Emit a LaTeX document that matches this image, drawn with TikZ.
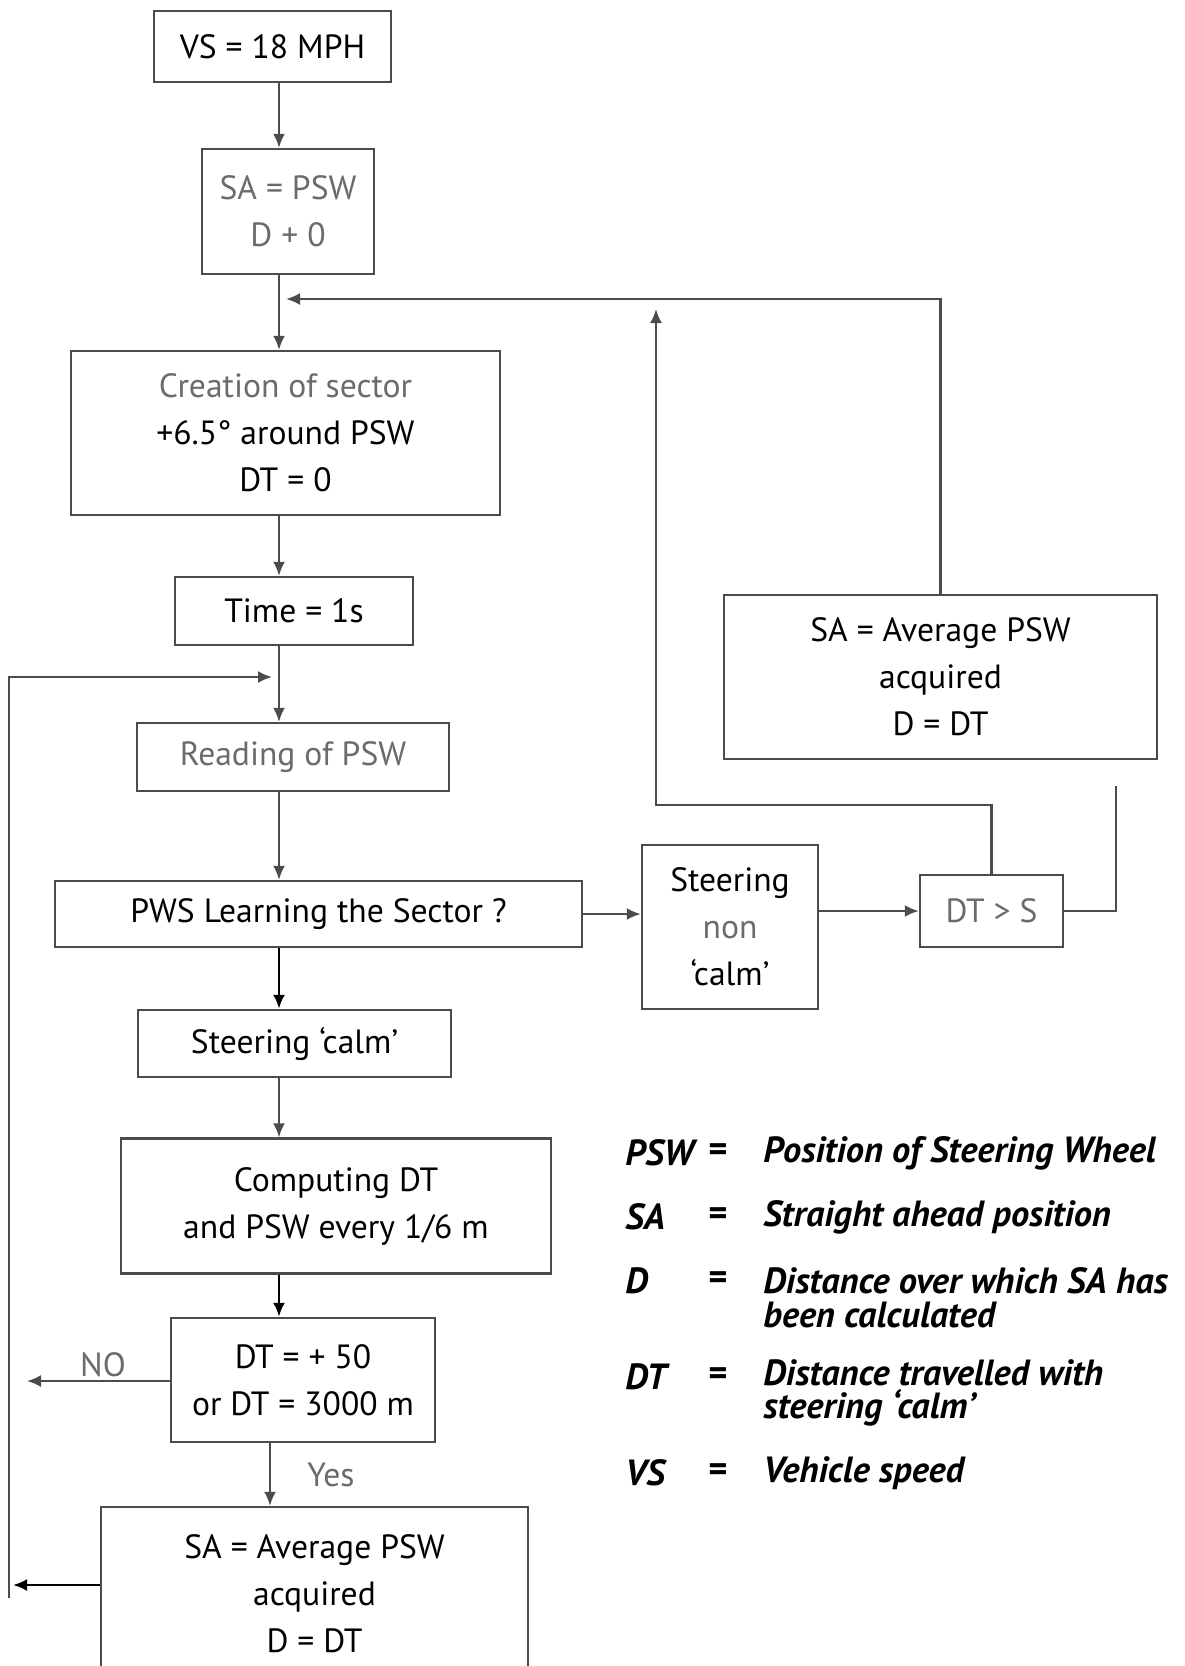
\documentclass[tikz,border=0pt]{standalone}
\usepackage{fontspec}
\setmainfont{PT Sans}
\usetikzlibrary{arrows.meta}
\newcommand\boxfont{\fontsize{16.8}{23.5}\selectfont}
\newcommand\legfont{\fontsize{18.2}{16.8}\selectfont\bfseries\itshape}
\definecolor{lineg}{gray}{0.3}
\definecolor{textg}{gray}{0.42}
\begin{document}
\begin{tikzpicture}[x=0.5pt,y=-0.5pt,
  box/.style={draw=lineg, line width=1.2pt, inner sep=0pt, align=center, font=\boxfont},
  arr/.style={draw=lineg, line width=1.1pt, -{Latex[length=7pt,width=6pt]}},
  arrk/.style={draw=black, line width=1.3pt, -{Latex[length=7pt,width=6pt]}},
  plain/.style={draw=lineg, line width=1.1pt},
  lbl/.style={font=\boxfont, text=textg, inner sep=0pt},
  legk/.style={font=\legfont, inner sep=0pt, anchor=west, align=left},
  legd/.style={font=\legfont, inner sep=0pt, anchor=west, align=left}]
\useasboundingbox (0,0) rectangle (1184,1666);
\fill[white] (0,0) rectangle (1184,1666);

% boxes
\node[box, minimum width=118.5pt, minimum height=35.5pt] (vs) at (272.5,46.5) {VS = 18 MPH};
\node[box, minimum width=86pt, minimum height=62.5pt, text=textg] (sa0) at (288,211.5) {SA = PSW\\D + 0};
\node[box, minimum width=214.5pt, minimum height=82pt] (cr) at (285.5,433) {\textcolor{textg}{Creation of sector}\\+6.5° around PSW\\DT = 0};
\node[box, minimum width=119pt, minimum height=34pt] (time) at (294,611) {Time = 1s};
\node[box, minimum width=156pt, minimum height=34pt, text=textg] (read) at (293,757) {Reading of PSW};
\node[box, minimum width=263.5pt, minimum height=33pt] (pws) at (318.5,914) {PWS Learning the Sector ?};
\node[box, minimum width=88pt, minimum height=82pt] (non) at (730,927) {Steering\\\textcolor{textg}{non}\\‘calm’};
\node[box, minimum width=71.5pt, minimum height=36pt, text=textg] (dts) at (991.5,911) {DT > S};
\node[box, minimum width=216.5pt, minimum height=82pt] (rsa) at (940.5,677) {SA = Average PSW\\acquired\\D = DT};
\node[box, minimum width=156.5pt, minimum height=33.5pt] (calm) at (294.5,1043.5) {Steering ‘calm’};
\node[box, minimum width=215pt, minimum height=67.5pt] (comp) at (336,1206) {Computing DT\\and PSW every 1/6 m};
\node[box, minimum width=132pt, minimum height=62pt] (dtc) at (303,1380) {DT = + 50\\or DT = 3000 m};
\node[box, minimum width=213.5pt, minimum height=86.5pt] (bsa) at (314.5,1593.5) {SA = Average PSW\\acquired\\D = DT};

% labels
\node[lbl] (nol) at (103,1365) {NO};
\node[lbl] (yesl) at (331,1475) {Yes};

% coordinates
\coordinate (sx) at (279,0);
\coordinate (yx) at (270,0);
\coordinate (m1) at (286,299);
\coordinate (m2) at (656,309);
\coordinate (dtsy) at (0,805);
\coordinate (e1) at (1116,786);
\coordinate (m3) at (272,677);
\coordinate (lt) at (9,677);
\coordinate (lb) at (9,1598);
\coordinate (lb2) at (13,1585);
\coordinate (no) at (27,1381);

% connectors
\draw[arr] (vs.south -| sx) -- (sa0.north -| sx);
\draw[arr] (sa0.south -| sx) -- (cr.north -| sx);
\draw[arr] (rsa.north) |- (m1);
\draw[arr] (dts.north) -- (dts.north |- dtsy) -| (m2);
\draw[plain] (dts.east) -| (e1);
\draw[arr] (cr.south -| sx) -- (time.north -| sx);
\draw[arr] (time.south -| sx) -- (read.north -| sx);
\draw[arr] (lb) -- (lt) -- (m3);
\draw[arr] (read.south -| sx) -- (pws.north -| sx);
\draw[arrk] (pws.south -| sx) -- (calm.north -| sx);
\draw[arr] (pws.east) -- (pws.east -| non.west);
\draw[arr] (non.east |- dts) -- (dts.west);
\draw[arr] (calm.south -| sx) -- (comp.north -| sx);
\draw[arrk] (comp.south -| sx) -- (dtc.north -| sx);
\draw[arr] (dtc.west |- no) -- (no);
\draw[arr] (dtc.south -| yx) -- (bsa.north -| yx);
\draw[arrk] (bsa.west |- lb2) -- (lb2);

% legend
\node[legk] (k1) at (625,1153) {PSW};
\node[legk] (k2) at (625,1217) {SA};
\node[legk] (k3) at (625,1281) {D};
\node[legk] (k4) at (625,1377) {DT};
\node[legk] (k5) at (625,1473) {VS};
\node[font=\legfont, inner sep=0pt] (q1) at (717,1153) {=};
\node[font=\legfont, inner sep=0pt] (q2) at (717,1217) {=};
\node[font=\legfont, inner sep=0pt] (q3) at (717,1281) {=};
\node[font=\legfont, inner sep=0pt] (q4) at (717,1377) {=};
\node[font=\legfont, inner sep=0pt] (q5) at (717,1473) {=};
\node[legd] (d1) at (763,1153) {Position of Steering Wheel};
\node[legd] (d2) at (763,1217) {Straight ahead position};
\node[legd] (d3) at (763,1297.5) {Distance over which SA has\\been calculated};
\node[legd] (d4) at (763,1393) {Distance travelled with\\steering ‘calm’};
\node[legd] (d5) at (763,1473) {Vehicle speed};
\end{tikzpicture}
\end{document}
